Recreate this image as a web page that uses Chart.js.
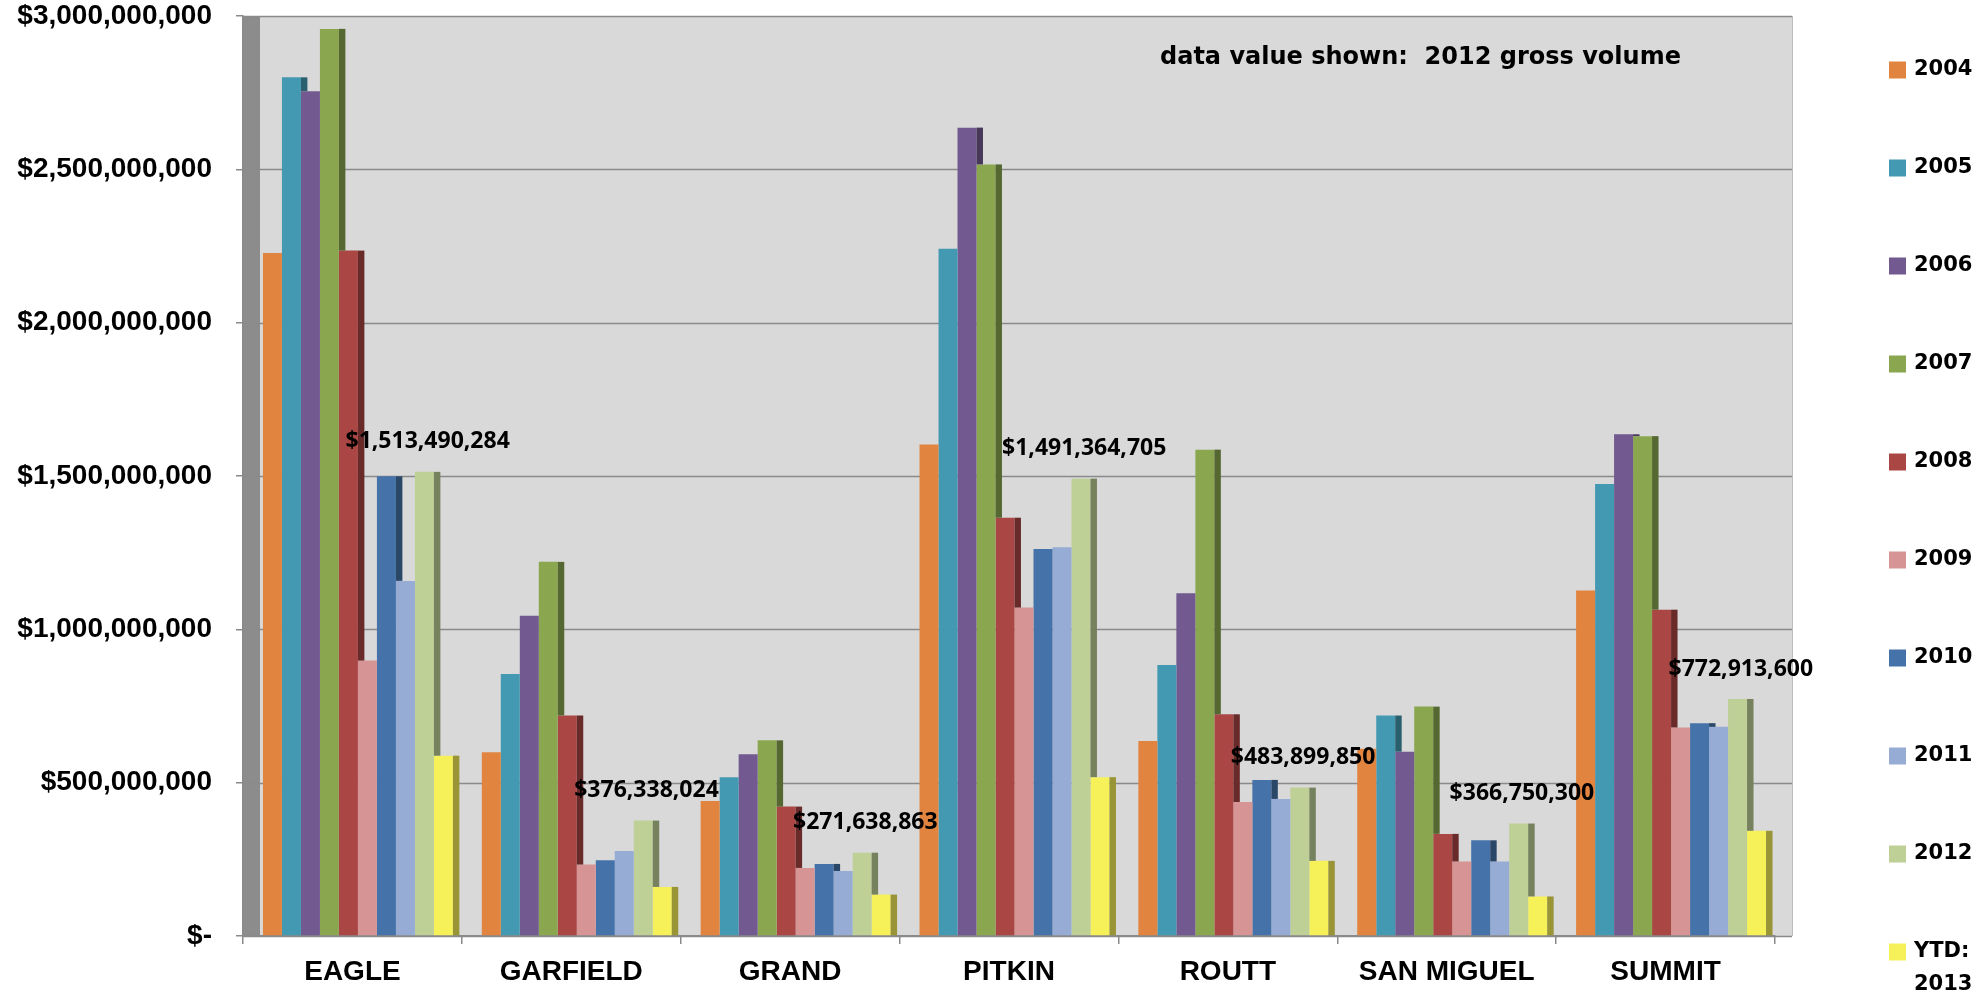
<!DOCTYPE html>
<html>
<head>
<meta charset="utf-8">
<script src="https://cdn.jsdelivr.net/npm/chart.js@4.4.0/dist/chart.umd.min.js"></script>
<style>
  html, body { margin: 0; padding: 0; background: #fff; }
  #wrap { width: 1988px; height: 999px; }
</style>
</head>
<body>
<div id="wrap"><canvas id="graficoVolumen" width="1988" height="999"></canvas></div>
<script>
// datos (volumen bruto en dolares)
const condados = ['EAGLE', 'GARFIELD', 'GRAND', 'PITKIN', 'ROUTT', 'SAN MIGUEL', 'SUMMIT'];
const anios = ['2004', '2005', '2006', '2007', '2008', '2009', '2010', '2011', '2012', 'YTD: 2013'];

const v2004 = [2227000000, 599000000, 440000000, 1603000000, 636000000, 611000000, 1127000000];
const v2005 = [2800000000, 854000000, 518000000, 2241000000, 884000000, 719000000, 1474000000];
const v2006 = [2755000000, 1044000000, 593000000, 2636000000, 1118000000, 601000000, 1636000000];
const v2007 = [2958000000, 1220000000, 638000000, 2516000000, 1586000000, 748000000, 1630000000];
const v2008 = [2235000000, 719000000, 422000000, 1364000000, 723000000, 333000000, 1064000000];
const v2009 = [898000000, 233000000, 222000000, 1071000000, 437000000, 243000000, 680000000];
const v2010 = [1499000000, 247000000, 235000000, 1262000000, 509000000, 312000000, 694000000];
const v2011 = [1158000000, 277000000, 212000000, 1268000000, 447000000, 243000000, 682000000];
const v2012 = [1513490284, 376338024, 271638863, 1491364705, 483899850, 366750300, 772913600];
const vYTD2013 = [588000000, 160000000, 135000000, 518000000, 245000000, 129000000, 343000000];

const series = [v2004, v2005, v2006, v2007, v2008, v2009, v2010, v2011, v2012, vYTD2013];
const colores = ['#E0843F', '#4499B2', '#72598F', '#8AA74F', '#AA4644', '#D69494', '#4572A8', '#96ACD4', '#BFD097', '#F6F059'];

const notaTexto = 'data value shown:  2012 gross volume';
const indiceEtiquetas = 8; // serie 2012 lleva etiquetas

const yTicks = [0, 500000000, 1000000000, 1500000000, 2000000000, 2500000000, 3000000000];

const DESPLAZA = 5.5;   // las barras 3D de Excel van un poco a la derecha
const LADO = 0.34;      // ancho de la cara lateral respecto a la barra

function oscurecer(hex, f) {
  const n = parseInt(hex.slice(1), 16);
  const r = Math.round(((n >> 16) & 255) * f);
  const g = Math.round(((n >> 8) & 255) * f);
  const b = Math.round((n & 255) * f);
  return `rgb(${r},${g},${b})`;
}

function formatoDolar(v) {
  if (v === 0) return '$-';
  return '$' + Math.round(v).toLocaleString('en-US');
}

// fondo gris, pared lateral y lineas de division
const fondo = {
  id: 'fondo',
  beforeDraw(chart) {
    const { ctx, chartArea } = chart;
    const y = chart.scales.y;
    const der = chartArea.right + 17;
    ctx.save();
    ctx.fillStyle = '#fff';
    ctx.fillRect(0, 0, chart.width, chart.height);
    ctx.fillStyle = '#D9D9D9';
    ctx.fillRect(chartArea.left + 17, chartArea.top, der - chartArea.left - 17, chartArea.bottom - chartArea.top);
    ctx.fillStyle = '#8C8C8C';
    ctx.fillRect(chartArea.left, chartArea.top, 17, chartArea.bottom - chartArea.top);
    ctx.strokeStyle = '#8A8A8A';
    ctx.lineWidth = 1.5;
    yTicks.forEach(t => {
      const py = Math.round(y.getPixelForValue(t)) + 0.5;
      ctx.beginPath();
      ctx.moveTo(chartArea.left, py);
      ctx.lineTo(der, py);
      ctx.stroke();
    });
    ctx.strokeStyle = '#BDBDBD';
    ctx.lineWidth = 1;
    ctx.beginPath();
    ctx.moveTo(der + 0.5, chartArea.top);
    ctx.lineTo(der + 0.5, chartArea.bottom);
    ctx.stroke();
    ctx.restore();
  }
};

// cara lateral oscura de cada barra y etiquetas de 2012
const barras3d = {
  id: 'barras3d',
  beforeDatasetsDraw(chart) {
    chart.ctx.save();
    chart.ctx.translate(DESPLAZA, 0);
  },
  afterDatasetsDraw(chart) {
    const ctx = chart.ctx;
    const n = chart.data.datasets.length;
    for (let i = 0; i < n; i++) {
      const meta = chart.getDatasetMeta(i);
      const sig = i + 1 < n ? chart.getDatasetMeta(i + 1) : null;
      meta.data.forEach((bar, k) => {
        const w = bar.width;
        const x0 = bar.x + w / 2;
        const fin = sig ? sig.data[k].y : bar.base;
        if (fin > bar.y) {
          ctx.fillStyle = oscurecer(colores[i], 0.62);
          ctx.fillRect(x0, bar.y, w * LADO, fin - bar.y);
        }
      });
    }
    ctx.restore();

    const meta = chart.getDatasetMeta(indiceEtiquetas);
    ctx.save();
    ctx.fillStyle = '#000';
    ctx.font = 'bold 23px "Open Sans"';
    ctx.textAlign = 'center';
    ctx.textBaseline = 'middle';
    meta.data.forEach((bar, k) => {
      const x = bar.x + DESPLAZA + bar.width * LADO / 2;
      ctx.fillText(formatoDolar(v2012[k]), x, bar.y - 30);
    });
    ctx.restore();
  }
};

// leyenda a la derecha y nota
const leyenda = {
  id: 'leyenda',
  afterDraw(chart) {
    const ctx = chart.ctx;
    ctx.save();
    ctx.fillStyle = '#000';
    ctx.font = 'bold 24px "DejaVu Sans"';
    ctx.textAlign = 'left';
    ctx.textBaseline = 'middle';
    ctx.fillText(notaTexto, 1160, 58);

    ctx.font = 'bold 21px "DejaVu Sans"';
    chart.data.datasets.forEach((ds, i) => {
      const y = 70 + i * 98;
      ctx.fillStyle = colores[i];
      ctx.fillRect(1889, y - 8.5, 17, 17);
      ctx.fillStyle = '#000';
      ds.label.split(' ').forEach((linea, j) => {
        ctx.fillText(linea, 1914, y + j * 33);
      });
    });
    ctx.restore();
  }
};

new Chart(document.getElementById('graficoVolumen'), {
  type: 'bar',
  data: {
    labels: condados,
    datasets: series.map((s, i) => ({
      label: anios[i],
      data: s,
      backgroundColor: colores[i],
      borderWidth: 0,
      categoryPercentage: 0.868,
      barPercentage: 1
    }))
  },
  options: {
    responsive: false,
    animation: false,
    layout: { padding: { top: 16, right: 213, left: 0, bottom: 0 } },
    plugins: {
      legend: { display: false },
      tooltip: { enabled: false }
    },
    scales: {
      x: {
        grid: { offset: true, drawOnChartArea: false, color: '#8A8A8A', tickLength: 8, lineWidth: 1.5 },
        border: { color: '#8A8A8A', width: 2 },
        ticks: {
          color: '#000',
          font: { family: '"Liberation Sans", Arial', size: 28, weight: 'bold' },
          padding: 11,
          maxRotation: 0,
          autoSkip: false
        },
        afterFit: s => { s.height = 63; }
      },
      y: {
        min: 0,
        max: 3000000000,
        grid: { drawOnChartArea: false, color: '#8A8A8A', tickLength: 7, lineWidth: 1.5 },
        border: { color: '#8A8A8A', width: 1.5 },
        ticks: {
          stepSize: 500000000,
          color: '#000',
          font: { family: '"Liberation Sans", Arial', size: 28, weight: 'bold' },
          padding: 24,
          callback: v => formatoDolar(v)
        },
        afterFit: s => {
          s.width = 243;
          s.paddingTop = 0;
          s.paddingBottom = 0;
        }
      }
    }
  },
  plugins: [fondo, barras3d, leyenda]
});
</script>
</body>
</html>
